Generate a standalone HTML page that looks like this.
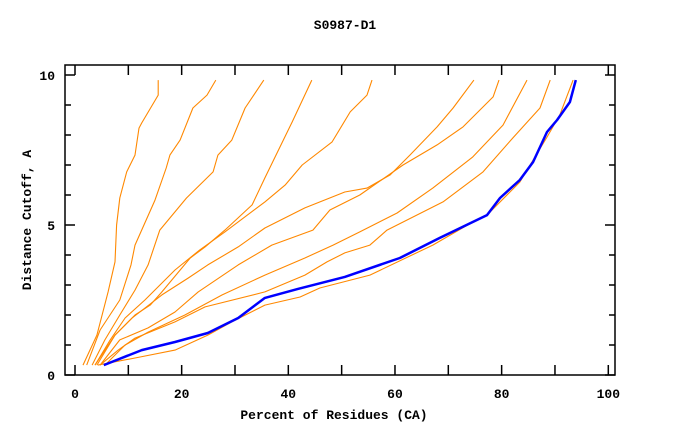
<!DOCTYPE html>
<html><head><meta charset="utf-8"><style>
body{margin:0;background:#fff}
svg text{font-family:"Liberation Mono","DejaVu Sans Mono",monospace;font-weight:bold;font-size:13px;fill:#000}
</style></head><body>
<svg id="chart" width="680" height="440" xmlns="http://www.w3.org/2000/svg">
<rect width="680" height="440" fill="#fff"/>
<text x="345" y="29" text-anchor="middle">S0987-D1</text>
<text x="334" y="419" text-anchor="middle">Percent of Residues (CA)</text>
<text transform="translate(31,220) rotate(-90)" text-anchor="middle">Distance Cutoff, A</text>
<g id="axes"></g>
<g id="series"></g>
</svg>
<script>
const xTicks=[0,20,40,60,80,100];
const yTicks=[0,5,10];
const seriesNames=["a","b","c","d","e","f","g","h","i","j","ref"];
const sA_x=[1.5,4.1,6.2,7.5,7.8,8.4,9.7,11.25,12.0,12.5,15.6,15.6];
const sA_y=[0.33,1.33,2.77,3.77,5.0,5.9,6.77,7.33,8.23,8.4,9.33,9.83];
const sB_x=[2.2,4.7,8.4,10.5,11.25,15.0,17.1,17.8,19.7,22.1,24.75,26.4];
const sB_y=[0.33,1.5,2.5,3.67,4.33,5.83,6.9,7.33,7.83,8.9,9.33,9.83];
const sC_x=[3.2,5.6,8.4,11.25,13.7,15.9,20.9,25.9,26.8,29.4,31.9,35.4];
const sC_y=[0.33,1.17,2.0,2.83,3.67,4.83,5.9,6.77,7.33,7.83,8.9,9.83];
const sD_x=[3.75,7.5,11.25,14.1,16.3,21.6,24.4,28.1,33.2,35.6,40.7,44.4];
const sD_y=[0.33,1.33,2.0,2.33,2.77,3.9,4.27,4.83,5.67,6.57,8.43,9.83];
const sE_x=[3.75,6.6,9.4,13.1,18.75,23.4,28.1,35.6,39.4,42.6,48.2,51.6,54.75,55.7];
const sE_y=[0.33,1.17,1.9,2.5,3.5,4.17,4.77,5.77,6.33,7.0,7.77,8.77,9.33,9.83];
const sF_x=[4.1,7.5,10.7,16.3,21.2,24.9,30.6,35.6,43.1,50.6,54.75,59.1,62.8,67.9,70.9,74.8];
const sF_y=[0.33,1.33,1.9,2.67,3.23,3.67,4.27,4.9,5.57,6.1,6.23,6.67,7.33,8.27,8.9,9.83];
const sG_x=[4.7,8.4,13.7,18.75,23.1,30.6,36.9,44.6,47.8,53.4,61.5,67.9,72.75,78.4,79.5];
const sG_y=[0.33,1.17,1.57,2.1,2.77,3.67,4.33,4.83,5.5,6.0,7.0,7.67,8.27,9.27,9.83];
const sH_x=[5.6,9.4,13.7,20.6,27.6,35.6,43.1,48.4,53.4,60.4,67.1,74.6,80.25,84.75];
const sH_y=[0.33,1.0,1.43,2.0,2.67,3.33,3.9,4.33,4.77,5.4,6.23,7.27,8.33,9.83];
const sI_x=[4.7,8.1,11.25,18.75,24.4,35.6,43.1,47.25,50.6,55.3,58.5,69.0,76.5,82.1,87.2,89.1];
const sI_y=[0.33,0.83,1.23,1.77,2.27,2.77,3.33,3.77,4.07,4.33,4.83,5.77,6.77,7.9,8.9,9.83];
const sJ_x=[4.3,12.2,18.75,24.9,29.4,35.6,42.2,45.9,55.3,67.1,74.6,77.25,83.4,84.75,88.5,90.9,93.4];
const sJ_y=[0.33,0.6,0.83,1.33,1.77,2.33,2.6,2.9,3.33,4.33,5.1,5.33,6.43,6.83,7.93,8.67,9.83];
const ref_x=[5.4,12.5,18.75,24.9,30.6,35.6,41.8,50.6,60.9,68.4,77.25,79.7,83.4,85.9,88.5,90.4,92.8,93.9];
const ref_y=[0.33,0.83,1.1,1.4,1.9,2.57,2.87,3.27,3.9,4.57,5.33,5.9,6.5,7.1,8.1,8.5,9.1,9.83];

const L=65,R=615,T=65,B=375;
function sx(v){return 75+v*5.333;}
function sy(v){return 375-v*30;}
const NS="http://www.w3.org/2000/svg";
const axes=document.getElementById('axes');
function mk(tag,attrs,parent){const e=document.createElementNS(NS,tag);for(const k in attrs)e.setAttribute(k,attrs[k]);parent.appendChild(e);return e;}

const frame=mk('rect',{x:L,y:T,width:R-L,height:B-T,fill:'none',stroke:'#000','stroke-width':1.5},axes);


for(let v=0;v<=100;v+=10){
  const x=sx(v);
  const t1=mk('line',{x1:x,y1:B,x2:x,y2:B-10,stroke:'#000','stroke-width':1.5},axes);
  
  
  const t2=mk('line',{x1:x,y1:T,x2:x,y2:T+10,stroke:'#000','stroke-width':1.5},axes);
  
  
}
for(let v=0;v<=10;v++){
  const y=sy(v);const len=(v%5===0)?10:6;
  const t1=mk('line',{x1:L,y1:y,x2:L+len,y2:y,stroke:'#000','stroke-width':1.5},axes);
  
  
  const t2=mk('line',{x1:R,y1:y,x2:R-len,y2:y,stroke:'#000','stroke-width':1.5},axes);
  
  
}
xTicks.forEach(v=>{
  const t=mk('text',{x:Math.max(sx(v),66),y:398,'text-anchor':'middle'},axes);
  t.textContent=v;
  
  
});
yTicks.forEach(v=>{
  const t=mk('text',{x:55,y:sy(v)+5,'text-anchor':'end'},axes);
  t.textContent=v;
  
  
});
const sg=document.getElementById('series');
const all=[[sA_x,sA_y],[sB_x,sB_y],[sC_x,sC_y],[sD_x,sD_y],[sE_x,sE_y],[sF_x,sF_y],[sG_x,sG_y],[sH_x,sH_y],[sI_x,sI_y],[sJ_x,sJ_y],[ref_x,ref_y]];
all.forEach((s,i)=>{
  const pts=s[0].map((x,k)=>sx(x).toFixed(1)+','+sy(s[1][k]).toFixed(1)).join(' ');
  const isRef=i===all.length-1;
  const p=mk('polyline',{points:pts,fill:'none',stroke:isRef?'#0000ff':'#ff8800','stroke-width':isRef?2.5:1.1,'stroke-linejoin':'round'},sg);
  
  
});
</script>
</body></html>
